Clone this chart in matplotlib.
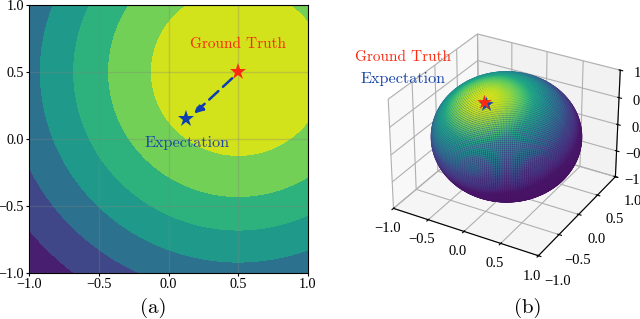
import numpy as np
import matplotlib
matplotlib.use("Agg")
import matplotlib.pyplot as plt

plt.rcParams['font.family'] = ['Liberation Serif', 'DejaVu Serif']
plt.rcParams['axes.unicode_minus'] = True

# radii of the contour bands around the ground truth
band_radii = [0.0, 0.63, 0.937, 1.187, 1.426, 1.668, 1.915, 3.0]
band_colors = ['#d2e21b', '#73d056', '#2db27d', '#1f9a8a', '#2c728e', '#3f4788', '#481f70']
ticks = [-1.0, -0.5, 0.0, 0.5, 1.0]
truth = [0.5, 0.5]
expect = [0.125, 0.15]
# colour along the angle from the star on the sphere (cos angle -> viridis value)
sphere_cos = [-1.0, 0.0, 0.35, 0.6, 0.8, 0.92, 1.0]
sphere_val = [0.02, 0.06, 0.22, 0.42, 0.6, 0.8, 0.95]
star3d = [-0.067, -0.464, 0.882]
sphere_scale = [0.9, 0.9, 0.98]
sphere_lift = 0.06

fig = plt.figure(figsize=(6.4, 3.19), dpi=100)

ax = fig.add_axes([29 / 640, 1 - 273 / 319, 279 / 640, 268 / 319])
gx, gy = np.meshgrid(np.linspace(-1, 1, 500), np.linspace(-1, 1, 500))
dist = np.hypot(gx - truth[0], gy - truth[1])
ax.contourf(gx, gy, dist, levels=band_radii, colors=band_colors)
ax.grid(color='#808080', alpha=0.3, linewidth=1.0)
ax.set_xlim(-1, 1)
ax.set_ylim(-1, 1)
ax.set_xticks(ticks)
ax.set_yticks(ticks)
ax.tick_params(labelsize=10.2, length=2, pad=1.5)
ax.annotate('', xy=(0.184, 0.19), xytext=(0.456, 0.453),
            arrowprops=dict(arrowstyle='-|>', color='#0d3fb0', linestyle=(0, (5, 2.5)),
                            linewidth=1.8, mutation_scale=13, shrinkA=0, shrinkB=0))
ax.plot(truth[0], truth[1], marker='*', color='#fb2a10', markersize=12.5, markeredgewidth=0)
ax.plot(expect[0], expect[1], marker='*', color='#0d3fb0', markersize=12.5, markeredgewidth=0)
ax.text(0.5, 0.71, 'Ground Truth', color='#fb2a10', fontsize=11, family='cmr10', ha='center', va='center')
ax.text(0.13, -0.03, 'Expectation', color='#1b47a8', fontsize=11.7, family='cmr10', ha='center', va='center')
fig.text(153 / 640, 1 - 308 / 319, '(a)', fontsize=15, family='cmr10', ha='center', va='center')

ax3 = fig.add_axes([372 / 640, 1 - 272 / 319, 262 / 640, 258 / 319], projection='3d')
ax3.computed_zorder = False
star = np.array(star3d) / np.linalg.norm(star3d)
view = np.array([0.433, -0.75, 0.5])


def sphere(nu, nv):
    u = np.linspace(0, 2 * np.pi, nu)
    v = np.linspace(0, np.pi, nv)
    sx = np.outer(np.cos(u), np.sin(v))
    sy = np.outer(np.sin(u), np.sin(v))
    sz = np.outer(np.ones_like(u), np.cos(v))
    vals = np.interp(sx * star[0] + sy * star[1] + sz * star[2], sphere_cos, sphere_val)
    return sx, sy, sz, vals


sx, sy, sz, vals = sphere(200, 100)
ax3.plot_surface(sx * sphere_scale[0], sy * sphere_scale[1], sz * sphere_scale[2] + sphere_lift,
                 facecolors=plt.cm.viridis(vals * 0.35), rstride=1, cstride=1,
                 linewidth=0, antialiased=False, shade=False, zorder=2)
px, py, pz, pv = sphere(220, 110)
front = px * view[0] + py * view[1] + pz * view[2] > -0.02
ax3.scatter(px[front] * sphere_scale[0], py[front] * sphere_scale[1], pz[front] * sphere_scale[2] + sphere_lift,
            c=plt.cm.viridis(pv[front]), s=1.7, linewidths=0, depthshade=False, zorder=3)
star_pos = star * np.array(sphere_scale) + np.array([0, 0, sphere_lift])
ax3.scatter([star_pos[0] + 0.03], [star_pos[1] - 0.01], [star_pos[2] - 0.02], marker='*', s=125, color='#1b47a8',
            depthshade=False, zorder=4, linewidths=0)
ax3.scatter([star_pos[0]], [star_pos[1]], [star_pos[2]], marker='*', s=125, color='#fb2a10',
            depthshade=False, zorder=5, linewidths=0)
ax3.set_xlim(-1, 1)
ax3.set_ylim(-1, 1)
ax3.set_zlim(-1, 1)
ax3.set_xticks(ticks)
ax3.set_yticks(ticks)
ax3.set_zticks(ticks)
ax3.tick_params(labelsize=10.5, pad=0)
ax3.tick_params(axis='x', pad=-1)
ax3.tick_params(axis='y', pad=4)
ax3.tick_params(axis='z', pad=2)
fig.text(403 / 640, 1 - 57 / 319, 'Ground Truth', color='#fb2a10', fontsize=11, family='cmr10', ha='center', va='center')
fig.text(403 / 640, 1 - 79 / 319, 'Expectation', color='#1b47a8', fontsize=11.7, family='cmr10', ha='center', va='center')
fig.text(528 / 640, 1 - 308 / 319, '(b)', fontsize=15, family='cmr10', ha='center', va='center')

fig.savefig('out.png', dpi=100)
